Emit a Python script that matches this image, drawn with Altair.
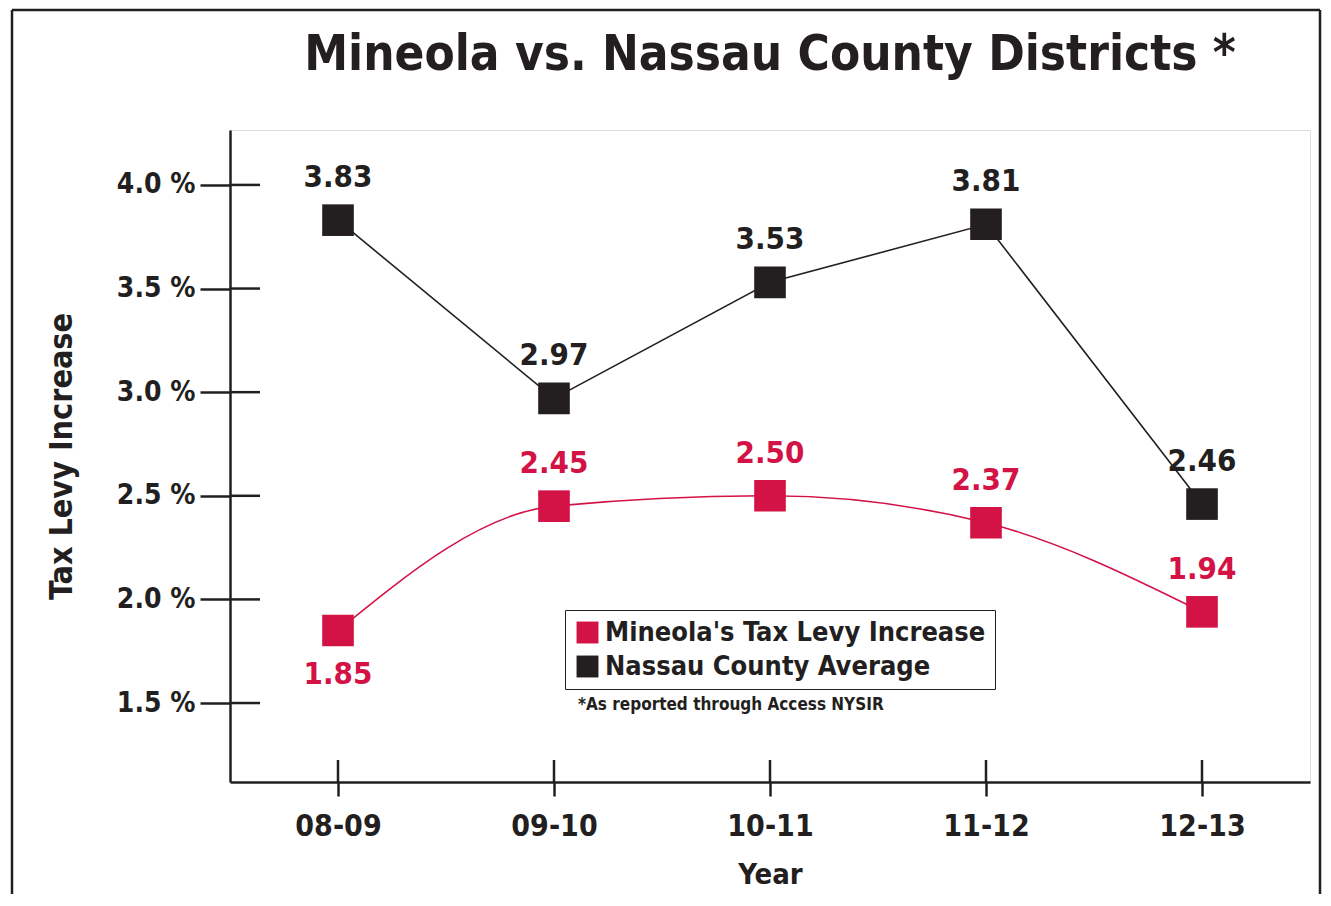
import altair as alt
import pandas as pd

years = ["08-09", "09-10", "10-11", "11-12", "12-13"]
mineola = [1.85, 2.45, 2.50, 2.37, 1.94]
nassau = [3.83, 2.97, 3.53, 3.81, 2.46]
series_names = ["Mineola's Tax Levy Increase", "Nassau County Average"]
colors = ["#d31245", "#231f20"]
y_ticks = [1.5, 2.0, 2.5, 3.0, 3.5, 4.0]
title_text = "Mineola vs. Nassau County Districts *"
footnote_text = "*As reported through Access NYSIR"

RED, BLACK = colors
FONT = "DejaVu Sans Condensed, DejaVu Sans, sans-serif"

rows = []
for yr, m, n in zip(years, mineola, nassau):
    rows.append({"year": yr, "series": series_names[0], "value": m, "label": f"{m:.2f}"})
    rows.append({"year": yr, "series": series_names[1], "value": n, "label": f"{n:.2f}"})
df = pd.DataFrame(rows)

W, H = 1080, 652
PL, PT, PR, PB = 222, 122, 12, 112

xscale = alt.Scale(type="point", domain=years, padding=0.5)
yscale = alt.Scale(domain=[1.119, 4.265], nice=False, zero=False)

x_enc = alt.X("year:N", scale=xscale, sort=years,
              axis=alt.Axis(title="Year", labelAngle=0, labelAlign="center",
                            labelFontSize=30, labelFont=FONT,
                            labelFontWeight="bold", labelColor=BLACK, labelPadding=30,
                            tickSize=14, tickWidth=2.5, tickColor=BLACK,
                            domainColor=BLACK, domainWidth=2.5,
                            titleFontSize=29, titleFont=FONT, titleFontWeight="bold",
                            titleColor=BLACK, titlePadding=19, grid=False))
y_enc = alt.Y("value:Q", scale=yscale,
              axis=alt.Axis(title="Tax Levy Increase", values=y_ticks,
                            labelExpr="format(datum.value, '.1f') + ' %'",
                            labelFontSize=28, labelFont=FONT, labelFontWeight="bold",
                            labelColor=BLACK, labelPadding=5,
                            tickSize=30, tickWidth=2.5, tickColor=BLACK,
                            domainColor=BLACK, domainWidth=2.5,
                            titleFontSize=32, titleFont=FONT, titleFontWeight="bold",
                            titleColor=BLACK, titlePadding=38, grid=False))

base = alt.Chart(df)

red = base.transform_filter(alt.datum.series == series_names[0])
blk = base.transform_filter(alt.datum.series == series_names[1])

line_red = red.mark_line(color=RED, strokeWidth=1.6, interpolate="monotone").encode(x=x_enc, y=y_enc)
line_blk = blk.mark_line(color=BLACK, strokeWidth=1.6).encode(x=x_enc, y=y_enc)

squares = base.mark_square(size=1000, opacity=1).encode(
    x=x_enc, y=y_enc,
    color=alt.Color("series:N", scale=alt.Scale(domain=series_names, range=colors),
                    legend=alt.Legend(title=None, orient="none", legendX=335, legendY=480,
                                      strokeColor=BLACK, padding=9,
                                      symbolType="square", symbolSize=480,
                                      symbolStrokeWidth=0, labelFontSize=27,
                                      labelFont=FONT, labelFontWeight="bold",
                                      labelColor=BLACK, labelLimit=500,
                                      rowPadding=6, symbolOffset=0)),
)

lbl_style = dict(fontSize=31, font=FONT, fontWeight="bold")
text_blk = blk.mark_text(color=BLACK, dy=-42, **lbl_style).encode(x=x_enc, y=y_enc, text="label:N")
text_red_up = red.transform_filter(alt.datum.year != years[0]).mark_text(
    color=RED, dy=-42, **lbl_style).encode(x=x_enc, y=y_enc, text="label:N")
text_red_dn = red.transform_filter(alt.datum.year == years[0]).mark_text(
    color=RED, dy=44, **lbl_style).encode(x=x_enc, y=y_enc, text="label:N")

tick_df = pd.DataFrame({"t": y_ticks})
ytick_inner = alt.Chart(tick_df).mark_rule(color=BLACK, strokeWidth=2.5).encode(
    y=alt.Y("t:Q", scale=yscale), x=alt.value(0), x2=alt.value(30))

year_df = pd.DataFrame({"yr": years})
xtick_inner = alt.Chart(year_df).mark_rule(color=BLACK, strokeWidth=2.5).encode(
    x=alt.X("yr:N", scale=xscale, sort=years), y=alt.value(H - 22), y2=alt.value(H))

one = pd.DataFrame({"a": [1]})
footnote = alt.Chart(one).mark_text(
    text=footnote_text, align="left", baseline="middle",
    fontSize=17, font=FONT, fontWeight="bold", color=BLACK).encode(
    x=alt.value(348), y=alt.value(575))

title = alt.Chart(one).mark_text(
    text=title_text, align="center", baseline="middle",
    fontSize=49, font=FONT, fontWeight="bold", color=BLACK).encode(
    x=alt.value(W / 2), y=alt.value(-75))

# outer frame (left, top, right edges; bottom runs off the page)
FL, FR, FT, FB = -218, W + PR - 2, -120, H + PB
frame_top = alt.Chart(one).mark_rule(color=BLACK, strokeWidth=2.5).encode(
    x=alt.value(FL), x2=alt.value(FR), y=alt.value(FT), y2=alt.value(FT))
frame_left = alt.Chart(one).mark_rule(color=BLACK, strokeWidth=2.5).encode(
    x=alt.value(FL), x2=alt.value(FL), y=alt.value(FT), y2=alt.value(FB))
frame_right = alt.Chart(one).mark_rule(color=BLACK, strokeWidth=2.5).encode(
    x=alt.value(FR), x2=alt.value(FR), y=alt.value(FT), y2=alt.value(FB))

chart = alt.layer(
    frame_top, frame_left, frame_right, title, ytick_inner, xtick_inner,
    line_blk, line_red, squares, text_blk, text_red_up, text_red_dn, footnote
).properties(
    width=W, height=H,
    autosize=alt.AutoSizeParams(type="none"),
    padding={"left": PL, "top": PT, "right": PR, "bottom": PB},
).configure_view(strokeWidth=0).configure(background="white")

chart.save("out.html", embed_options={"renderer": "svg", "actions": False})
